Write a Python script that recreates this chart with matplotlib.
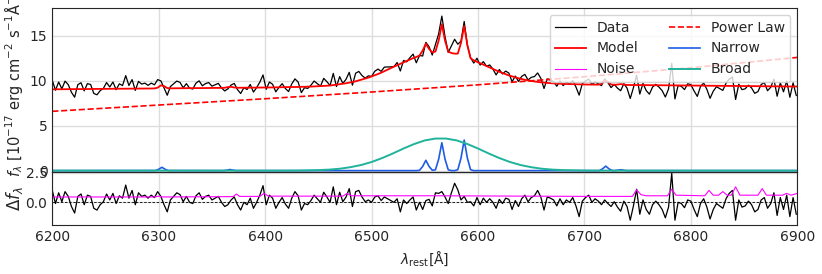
import numpy as np
import matplotlib
matplotlib.use("Agg")
import matplotlib.pyplot as plt
from matplotlib.lines import Line2D
from matplotlib.ticker import MultipleLocator

# rest-frame wavelength grid of the spectrum (3 A bins)
wave = np.arange(6200, 6900, 3)

flux = [
    10.05, 8.95, 9.86, 9.11, 9.96, 9.57, 8.72, 8.17, 9.57, 9.78,
    8.88, 9.68, 9.59, 8.59, 8.44, 8.90, 9.15, 9.80, 9.31, 9.86,
    9.01, 9.66, 9.47, 10.57, 9.47, 10.13, 8.93, 9.93, 9.63, 9.74,
    9.49, 9.74, 9.55, 10.13, 9.99, 9.21, 8.39, 9.36, 9.66, 9.97,
    9.82, 9.22, 9.68, 9.18, 9.08, 9.74, 9.99, 9.44, 9.69, 9.80,
    9.40, 9.55, 9.71, 9.21, 8.87, 9.10, 9.53, 9.70, 9.02, 8.58,
    9.23, 9.03, 9.59, 8.74, 9.24, 9.85, 10.65, 9.05, 9.86, 9.61,
    8.77, 9.27, 9.68, 9.14, 8.80, 9.65, 10.21, 9.86, 8.68, 9.23,
    9.15, 9.50, 9.97, 9.68, 9.41, 10.27, 9.90, 9.47, 10.82, 9.36,
    10.46, 9.71, 10.17, 10.94, 9.51, 10.84, 11.04, 10.58, 10.29, 10.55,
    10.48, 11.06, 11.30, 11.05, 11.52, 11.53, 11.55, 11.57, 12.03, 11.09,
    12.26, 12.11, 12.57, 12.97, 12.00, 12.81, 12.76, 14.28, 13.79, 12.86,
    14.06, 15.22, 17.20, 14.91, 13.15, 13.89, 14.62, 14.07, 14.41, 16.60,
    13.95, 12.56, 11.97, 12.51, 11.75, 12.13, 11.62, 11.76, 11.30, 10.65,
    11.25, 10.76, 11.08, 10.85, 9.89, 10.53, 9.93, 10.49, 10.71, 10.09,
    10.38, 10.47, 10.87, 10.28, 9.14, 10.21, 10.08, 9.91, 9.39, 9.97,
    9.46, 9.84, 9.63, 10.02, 9.31, 8.40, 9.69, 9.99, 10.18, 9.58,
    9.87, 9.67, 9.46, 10.21, 9.79, 9.24, 9.60, 9.18, 8.89, 9.68,
    9.18, 8.03, 9.23, 10.62, 8.52, 9.72, 8.91, 8.51, 9.31, 9.60,
    9.30, 8.90, 8.19, 9.09, 11.94, 7.98, 9.48, 9.38, 9.02, 9.67,
    9.57, 8.86, 8.26, 9.36, 9.75, 9.05, 8.05, 8.84, 9.34, 9.14,
    8.93, 9.73, 10.18, 10.42, 7.92, 9.62, 9.01, 9.11, 9.51, 9.20,
    8.60, 8.80, 9.59, 9.79, 8.89, 9.28, 10.18, 8.28, 9.77, 8.77,
    9.97, 8.16, 9.76, 8.36,
]

model = [
    9.05, 9.05, 9.06, 9.06, 9.06, 9.07, 9.07, 9.07, 9.07, 9.08,
    9.08, 9.08, 9.09, 9.09, 9.09, 9.10, 9.10, 9.10, 9.11, 9.11,
    9.11, 9.11, 9.12, 9.12, 9.12, 9.13, 9.13, 9.13, 9.13, 9.14,
    9.14, 9.14, 9.15, 9.23, 9.49, 9.41, 9.19, 9.16, 9.16, 9.17,
    9.17, 9.17, 9.18, 9.18, 9.18, 9.19, 9.19, 9.19, 9.19, 9.20,
    9.20, 9.20, 9.21, 9.21, 9.22, 9.30, 9.33, 9.25, 9.22, 9.23,
    9.23, 9.23, 9.24, 9.24, 9.24, 9.25, 9.25, 9.25, 9.26, 9.26,
    9.27, 9.27, 9.28, 9.29, 9.30, 9.30, 9.31, 9.31, 9.33, 9.33,
    9.35, 9.35, 9.37, 9.38, 9.41, 9.42, 9.45, 9.47, 9.52, 9.56,
    9.61, 9.66, 9.72, 9.79, 9.86, 9.94, 10.04, 10.13, 10.24, 10.35,
    10.48, 10.61, 10.75, 10.90, 11.07, 11.23, 11.40, 11.57, 11.73, 11.89,
    12.06, 12.21, 12.37, 12.52, 12.65, 12.81, 13.36, 14.13, 13.54, 13.16,
    13.26, 14.47, 16.30, 14.46, 13.25, 13.09, 13.02, 13.02, 14.21, 16.10,
    13.95, 12.51, 12.27, 12.11, 11.95, 11.78, 11.62, 11.46, 11.30, 11.15,
    11.00, 10.86, 10.73, 10.60, 10.49, 10.38, 10.28, 10.19, 10.11, 10.04,
    9.98, 9.92, 9.87, 9.83, 9.79, 9.76, 9.73, 9.71, 9.69, 9.67,
    9.66, 9.64, 9.63, 9.62, 9.61, 9.60, 9.59, 9.59, 9.58, 9.58,
    9.57, 9.57, 9.66, 10.01, 9.89, 9.59, 9.55, 9.58, 9.64, 9.58,
    9.53, 9.53, 9.53, 9.52, 9.52, 9.52, 9.51, 9.51, 9.51, 9.50,
    9.50, 9.50, 9.49, 9.49, 9.49, 9.48, 9.48, 9.48, 9.47, 9.47,
    9.47, 9.46, 9.46, 9.46, 9.45, 9.45, 9.45, 9.44, 9.44, 9.44,
    9.43, 9.43, 9.43, 9.42, 9.42, 9.42, 9.41, 9.41, 9.41, 9.40,
    9.40, 9.40, 9.39, 9.39, 9.39, 9.38, 9.38, 9.38, 9.37, 9.37,
    9.37, 9.36, 9.36, 9.36,
]

# power-law continuum
pl_wave = [6200, 6300, 6400, 6500, 6600, 6700, 6800, 6900]
pl_flux = [6.6, 7.3, 8.0, 8.75, 9.55, 10.45, 11.45, 12.6]

# broad H-alpha component
broad_wave = [6200, 6420, 6430, 6440, 6450, 6460, 6470, 6480, 6490, 6500,
              6510, 6520, 6530, 6540, 6550, 6560, 6570, 6580, 6590, 6600,
              6610, 6620, 6630, 6640, 6650, 6660, 6670, 6680, 6690, 6700,
              6710, 6900]
broad_flux = [0.0, 0.0, 0.01, 0.03, 0.06, 0.11, 0.21, 0.38, 0.62, 0.96,
              1.40, 1.91, 2.46, 2.96, 3.36, 3.57, 3.57, 3.36, 2.96, 2.46,
              1.91, 1.40, 0.96, 0.62, 0.38, 0.21, 0.11, 0.06, 0.03, 0.01,
              0.0, 0.0]

# narrow lines ([OI], [NII], H-alpha, [SII])
narrow_wave = [6200, 6297, 6300, 6303, 6306, 6309,
               6361, 6364, 6367, 6370, 6373,
               6542, 6545, 6548, 6551, 6554, 6557, 6560, 6563, 6566, 6569,
               6572, 6575, 6578, 6581, 6584, 6587, 6590, 6593, 6596,
               6714, 6717, 6720, 6723, 6726, 6728, 6731, 6734, 6737, 6740,
               6900]
narrow_flux = [0.0, 0.01, 0.15, 0.37, 0.15, 0.01,
               0.0, 0.05, 0.12, 0.05, 0.0,
               0.0, 0.03, 0.47, 1.15, 0.47, 0.04, 0.09, 1.27, 3.1, 1.27,
               0.09, 0.0, 0.0, 0.1, 1.39, 3.4, 1.39, 0.1, 0.0,
               0.0, 0.2, 0.5, 0.2, 0.01, 0.0, 0.04, 0.1, 0.04, 0.0,
               0.0]

# 1-sigma noise
noise_wave = [6200, 6296, 6300, 6304, 6370, 6373, 6376, 6395, 6399, 6403,
              6473, 6477, 6481, 6560, 6700, 6745, 6749, 6753, 6758, 6778,
              6782, 6786, 6813, 6817, 6821, 6826, 6830, 6834, 6838, 6842,
              6846, 6863, 6867, 6871, 6886, 6890, 6894, 6900]
noise_flux = [0.45, 0.45, 0.52, 0.45, 0.48, 0.7, 0.5, 0.5, 0.75, 0.52,
              0.52, 0.75, 0.55, 0.55, 0.5, 0.5, 1.05, 0.65, 0.55, 0.55,
              1.1, 0.6, 0.55, 1.0, 0.6, 0.6, 0.9, 0.6, 0.6, 1.3,
              0.6, 0.6, 1.15, 0.6, 0.6, 0.75, 0.6, 0.75]

resid = np.array(flux) - np.array(model)

dark = "#262626"
plt.rcParams.update({
    "font.family": "DejaVu Sans",
    "font.size": 10,
    "text.color": dark,
    "axes.labelcolor": dark,
    "axes.edgecolor": dark,
    "xtick.color": dark,
    "ytick.color": dark,
    "xtick.major.size": 0,
    "ytick.major.size": 0,
    "xtick.labelsize": 10,
    "ytick.labelsize": 10,
    "grid.color": "#dddddd",
    "grid.linewidth": 1.0,
})

c_narrow = "#1f5ce6"
c_broad = "#20b39c"

fig = plt.figure(figsize=(8.22, 2.74), dpi=100)
gs = fig.add_gridspec(2, 1, height_ratios=[164, 53], hspace=0,
                      left=0.0636, right=0.97, top=0.9708, bottom=0.179)
ax = fig.add_subplot(gs[0])
axr = fig.add_subplot(gs[1], sharex=ax)

ax.plot(wave, flux, color="k", lw=0.9, label="Data")
ax.plot(wave, model, color="red", lw=1.3, label="Model")
ax.plot(pl_wave, pl_flux, color="red", lw=1.2, ls="--", label="Power Law")
ax.plot(narrow_wave, narrow_flux, color=c_narrow, lw=1.2, label="Narrow")
ax.plot(broad_wave, broad_flux, color=c_broad, lw=1.4, label="Broad")

handles = [
    Line2D([], [], color="k", lw=0.9),
    Line2D([], [], color="red", lw=1.3),
    Line2D([], [], color="magenta", lw=0.8),
    Line2D([], [], color="red", lw=1.2, ls="--"),
    Line2D([], [], color=c_narrow, lw=1.2),
    Line2D([], [], color=c_broad, lw=1.4),
]
labels = ["Data", "Model", "Noise", "Power Law", "Narrow", "Broad"]
ax.legend(handles, labels, ncol=2, loc="upper right", fontsize=10,
          columnspacing=2.2, handlelength=2.2)

ax.set_xlim(6200, 6900)
ax.set_ylim(-0.15, 18.1)
ax.yaxis.set_major_locator(MultipleLocator(5))
ax.grid(True)
ax.tick_params(labelbottom=False)
ax.set_ylabel(r"$f_\lambda$ [$10^{-17}$ erg cm$^{-2}$ s$^{-1}$$\mathrm{\AA}^{-1}$]",
              fontsize=10.5)

axr.plot(wave, resid, color="k", lw=0.9)
axr.plot(noise_wave, noise_flux, color="magenta", lw=0.8)
axr.axhline(0, color="k", lw=0.6, ls=(0, (3, 2)))
axr.set_ylim(-1.9, 2.55)
axr.yaxis.set_major_locator(MultipleLocator(2.5))
axr.grid(True)
axr.set_ylabel(r"$\Delta f_\lambda$", fontsize=12)
axr.set_xlabel(r"$\lambda_{\rm rest}$[Å]", fontsize=10)

ax.yaxis.set_label_coords(-0.036, 0.56)
axr.yaxis.set_label_coords(-0.036, 0.5)

fig.savefig("out.png", dpi=100)
